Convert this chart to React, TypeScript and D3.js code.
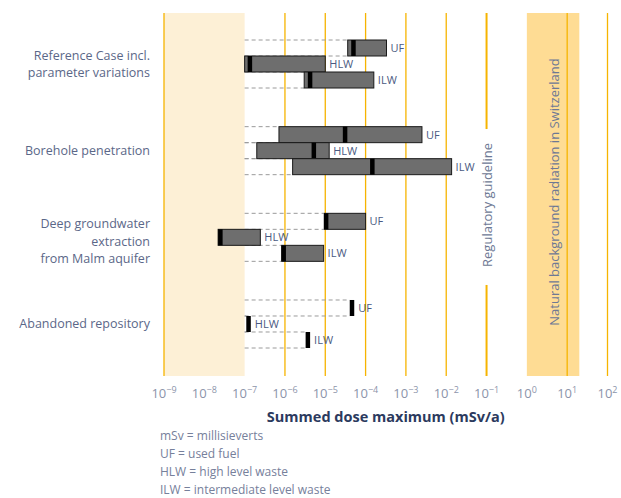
import React, { useEffect, useRef } from 'react';
import * as d3 from 'd3';

// data
const groupLabels = [
  ['Reference Case incl.', 'parameter variations'],
  ['Borehole penetration'],
  ['Deep groundwater', 'extraction', 'from Malm aquifer'],
  ['Abandoned repository'],
];
const wasteTypes = ['UF', 'HLW', 'ILW'];

// range of the parameter variations per group, in the order of wasteTypes (null = no range)
const rangeLow = [
  [3.6e-5, 1.0e-7, 3.0e-6],
  [7.1e-7, 2.0e-7, 1.55e-6],
  [9.5e-6, 2.2e-8, 8.3e-7],
  [null, null, null],
];
const rangeHigh = [
  [3.3e-4, 1.0e-5, 1.6e-4],
  [2.5e-3, 1.25e-5, 1.36e-2],
  [1.0e-4, 2.45e-7, 9.1e-6],
  [null, null, null],
];
// main value (thick black marker)
const mainValue = [
  [5.0e-5, 1.35e-7, 4.2e-6],
  [3.1e-5, 5.2e-6, 1.47e-4],
  [1.05e-5, 2.5e-8, 9.3e-7],
  [4.6e-5, 1.25e-7, 3.7e-6],
];

const tickExponents = [-9, -8, -7, -6, -5, -4, -3, -2, -1, 0, 1, 2];
const gridValues = [1e-9, 1e-6, 1e-5, 1e-4, 1e-3, 1e-2, 1e1, 1e2];
const guidelineValue = 0.1;
const lowBand = [1e-9, 1e-7];
const naturalBand = [1, 20];
const legendLines = [
  'mSv = millisieverts',
  'UF = used fuel',
  'HLW = high level waste',
  'ILW = intermediate level waste',
];

const App = () => {
  const svgRef = useRef(null);

  const width = 621;
  const height = 498;
  const plotTop = 13;
  const plotBottom = 376;
  const font = '"Open Sans", Lato, sans-serif';

  useEffect(() => {
    const svg = d3.select(svgRef.current);
    svg.selectAll('*').remove();

    const x = d3.scaleLog().domain([1e-9, 1e2]).range([164, 607.5]);

    const yGroup = d3.scaleBand<number>()
      .domain(d3.range(groupLabels.length))
      .range([40, 348])
      .paddingInner(0.446)
      .paddingOuter(0);

    const yRow = d3.scaleBand<string>()
      .domain(wasteTypes)
      .range([0, yGroup.bandwidth()]);

    // background bands
    svg.append('rect')
      .attr('x', x(lowBand[0]))
      .attr('y', plotTop)
      .attr('width', x(lowBand[1]) - x(lowBand[0]))
      .attr('height', plotBottom - plotTop)
      .attr('fill', '#fdf0d6');

    svg.append('rect')
      .attr('x', x(naturalBand[0]))
      .attr('y', plotTop)
      .attr('width', x(naturalBand[1]) - x(naturalBand[0]))
      .attr('height', plotBottom - plotTop)
      .attr('fill', '#fedc94');

    // gold grid lines
    svg.append('g')
      .selectAll('line')
      .data(gridValues)
      .join('line')
      .attr('x1', d => x(d))
      .attr('x2', d => x(d))
      .attr('y1', plotTop)
      .attr('y2', plotBottom)
      .attr('stroke', '#f6b400')
      .attr('stroke-width', 1.3);

    // regulatory guideline with its label
    const gx = x(guidelineValue);
    const guideText = svg.append('text')
      .attr('transform', `translate(${gx + 5}, 205) rotate(-90)`)
      .attr('text-anchor', 'middle')
      .style('font', `13px ${font}`)
      .attr('fill', '#6d7894')
      .text('Regulatory guideline');
    const gb = (guideText.node() as SVGTextElement).getComputedTextLength();
    svg.append('line')
      .attr('x1', gx).attr('x2', gx)
      .attr('y1', plotTop).attr('y2', 205 - gb / 2 - 14)
      .attr('stroke', '#f6b400').attr('stroke-width', 2);
    svg.append('line')
      .attr('x1', gx).attr('x2', gx)
      .attr('y1', 205 + gb / 2 + 18).attr('y2', plotBottom)
      .attr('stroke', '#f6b400').attr('stroke-width', 2);

    svg.append('text')
      .attr('transform', `translate(${(x(naturalBand[0]) + x(naturalBand[1])) / 2 + 1}, 192) rotate(-90)`)
      .attr('text-anchor', 'middle')
      .attr('dy', '0.35em')
      .style('font', `13px ${font}`)
      .attr('fill', '#6d7894')
      .text('Natural background radiation in Switzerland');

    // bars
    const rows = groupLabels.flatMap((_, g) => wasteTypes.map((t, i) => ({
      g, t,
      low: rangeLow[g][i],
      high: rangeHigh[g][i],
      main: mainValue[g][i],
    })));

    const x0 = x(lowBand[1]);
    const rowY = (d: any) => (yGroup(d.g) as number) + (yRow(d.t) as number);
    const rh = yRow.bandwidth();
    const markerW = 4.5;
    const startX = (d: any) => d.low != null
      ? Math.min(x(d.low), x(d.main) - markerW / 2)
      : x(d.main) - markerW / 2;

    const dashes = svg.append('g')
      .attr('stroke', '#9a9a9a')
      .attr('stroke-width', 1)
      .attr('stroke-dasharray', '4,3');
    rows.filter(d => startX(d) > x0).forEach(d => {
      [rowY(d), rowY(d) + rh].forEach(yy => {
        dashes.append('line')
          .attr('x1', x0).attr('x2', startX(d))
          .attr('y1', yy).attr('y2', yy);
      });
    });

    const rowG = svg.append('g')
      .selectAll('g')
      .data(rows)
      .join('g');

    rowG.filter(d => d.low != null)
      .append('rect')
      .attr('x', d => x(d.low as number))
      .attr('y', d => rowY(d))
      .attr('width', d => x(d.high as number) - x(d.low as number))
      .attr('height', rh)
      .attr('fill', '#6e6e6e')
      .attr('stroke', '#1a1a1a')
      .attr('stroke-width', 1);

    rowG.append('rect')
      .attr('x', d => x(d.main) - markerW / 2)
      .attr('y', d => rowY(d))
      .attr('width', markerW)
      .attr('height', rh)
      .attr('fill', '#000');

    rowG.append('text')
      .attr('x', d => (d.high != null ? x(d.high) : x(d.main) + markerW / 2) + 4)
      .attr('y', d => rowY(d) + rh / 2)
      .attr('dy', '0.35em')
      .style('font', `11px ${font}`)
      .attr('fill', '#4a5a82')
      .text(d => d.t);

    // group labels, one text per line
    const lineH = 17.5;
    const labelLines = groupLabels.flatMap((lines, g) => lines.map((l, i) => {
      const cy = (yGroup(g) as number) + yGroup.bandwidth() / 2 + (lines.length > 2 ? 4 : 0);
      return { l, y: cy + (i - (lines.length - 1) / 2) * lineH };
    }));
    svg.append('g')
      .selectAll('text')
      .data(labelLines)
      .join('text')
      .attr('x', 150)
      .attr('y', d => d.y)
      .attr('dy', '0.35em')
      .attr('text-anchor', 'end')
      .style('font', `12.5px ${font}`)
      .attr('fill', '#5b6788')
      .text(d => d.l);

    // x tick labels
    const tick = svg.append('g')
      .selectAll('text')
      .data(tickExponents)
      .join('text')
      .attr('x', d => x(Math.pow(10, d)))
      .attr('y', 398)
      .attr('text-anchor', 'middle')
      .style('font', `13px ${font}`)
      .attr('fill', '#8c94aa');
    tick.append('tspan').text('10');
    tick.append('tspan')
      .attr('dy', -5)
      .style('font-size', '9px')
      .text(d => (d < 0 ? '\u2212' + Math.abs(d) : String(d)));

    svg.append('text')
      .attr('x', (x.range()[0] + x.range()[1]) / 2)
      .attr('y', 422)
      .attr('text-anchor', 'middle')
      .style('font', `bold 14.5px ${font}`)
      .attr('fill', '#2c3a5e')
      .text('Summed dose maximum (mSv/a)');

    svg.append('g')
      .selectAll('text')
      .data(legendLines)
      .join('text')
      .attr('x', 160)
      .attr('y', (_, i) => 440 + i * 18)
      .style('font', `12px ${font}`)
      .attr('fill', '#76809b')
      .text(d => d);
  }, []);

  return (
    <svg
      ref={svgRef}
      width={width}
      height={height}
      style={{ position: 'absolute', left: 0, top: 0, background: '#fff' }}
    />
  );
};

export default App;
